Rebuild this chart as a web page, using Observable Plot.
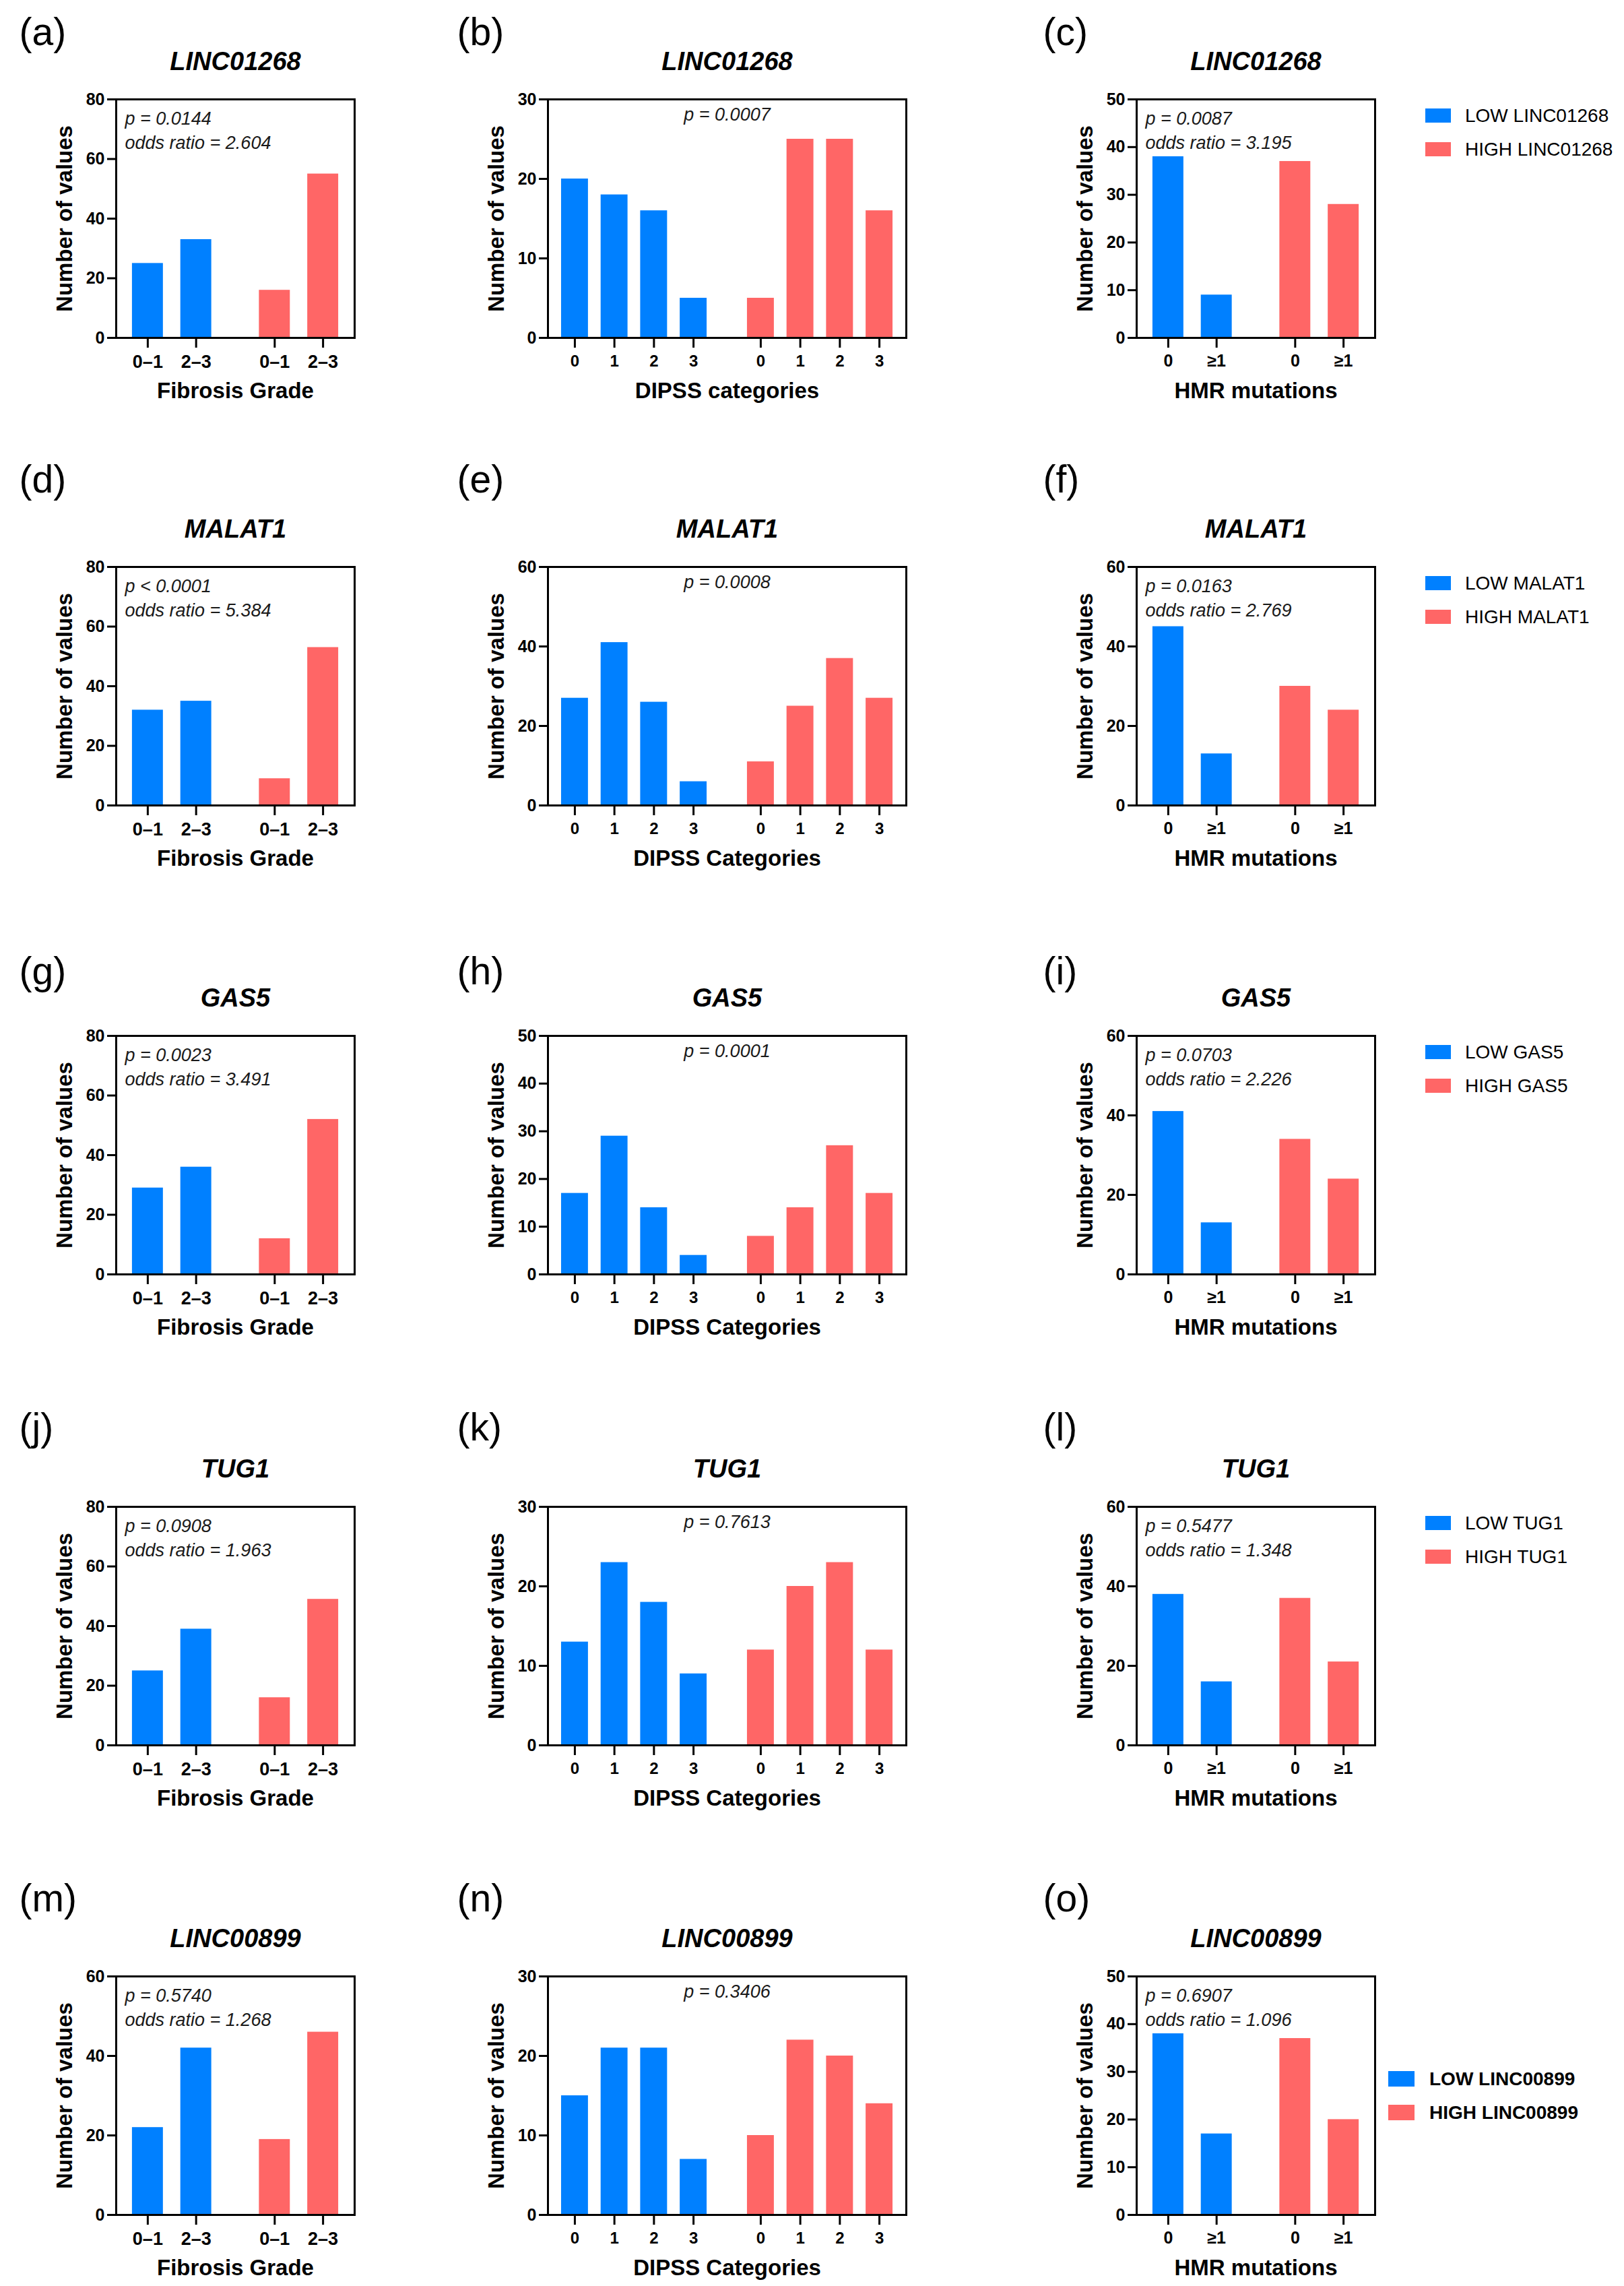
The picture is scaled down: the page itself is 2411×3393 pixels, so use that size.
<!DOCTYPE html>
<html>
<head>
<meta charset="utf-8">
<script src="https://cdn.jsdelivr.net/npm/d3@7"></script>
<script src="https://cdn.jsdelivr.net/npm/@observablehq/plot@0.6"></script>
<style>
html, body { margin: 0; padding: 0; background: #fff; }
#page { position: relative; width: 2411px; height: 3393px; background: #fff; overflow: hidden;
  font-family: "Liberation Sans", Arial, sans-serif; }
.panel { position: absolute; }
.panel svg { background: transparent !important; overflow: visible !important; max-width: none !important; }
.sw { position: absolute; }
.lt { position: absolute; white-space: nowrap; color: #000; font-size: 28px; line-height: 32px; }
</style>
</head>
<body>
<div id="page"></div>
<script>
// ---------------- DATA ----------------
const genes = ["LINC01268", "MALAT1", "GAS5", "TUG1", "LINC00899"];
const groups = ["LOW", "HIGH"];

const fibrosisCats = ["0–1", "2–3"];
const dipssCats = ["0", "1", "2", "3"];
const hmrCats = ["0", "≥1"];

const fibrosisLow  = [[25, 33], [32, 35], [29, 36], [25, 39], [22, 42]];
const fibrosisHigh = [[16, 55], [9, 53], [12, 52], [16, 49], [19, 46]];

const dipssLow  = [[20, 18, 16, 5], [27, 41, 26, 6], [17, 29, 14, 4], [13, 23, 18, 9], [15, 21, 21, 7]];
const dipssHigh = [[5, 25, 25, 16], [11, 25, 37, 27], [8, 14, 27, 17], [12, 20, 23, 12], [10, 22, 20, 14]];

const hmrLow  = [[38, 9], [45, 13], [41, 13], [38, 16], [38, 17]];
const hmrHigh = [[37, 28], [30, 24], [34, 24], [37, 21], [37, 20]];

const fibrosisP  = ["p = 0.0144", "p < 0.0001", "p = 0.0023", "p = 0.0908", "p = 0.5740"];
const fibrosisOR = ["2.604", "5.384", "3.491", "1.963", "1.268"];
const dipssP     = ["p = 0.0007", "p = 0.0008", "p = 0.0001", "p = 0.7613", "p = 0.3406"];
const hmrP       = ["p = 0.0087", "p = 0.0163", "p = 0.0703", "p = 0.5477", "p = 0.6907"];
const hmrOR      = ["3.195", "2.769", "2.226", "1.348", "1.096"];

const fibrosisYMax = [80, 80, 80, 80, 60];
const fibrosisYStep = [20, 20, 20, 20, 20];
const dipssYMax = [30, 60, 50, 30, 30];
const dipssYStep = [10, 20, 10, 10, 10];
const hmrYMax = [50, 60, 60, 60, 50];
const hmrYStep = [10, 20, 20, 20, 10];

const panelLetters = [["a", "b", "c"], ["d", "e", "f"], ["g", "h", "i"], ["j", "k", "l"], ["m", "n", "o"]];
const xLabels = [
  ["Fibrosis Grade", "DIPSS categories", "HMR mutations"],
  ["Fibrosis Grade", "DIPSS Categories", "HMR mutations"],
  ["Fibrosis Grade", "DIPSS Categories", "HMR mutations"],
  ["Fibrosis Grade", "DIPSS Categories", "HMR mutations"],
  ["Fibrosis Grade", "DIPSS Categories", "HMR mutations"]
];
const yLabel = "Number of values";

// ---------------- STYLE / LAYOUT ----------------
const FONT = "'Liberation Sans', Arial, sans-serif";
const BLUE = "#0080FF";
const RED = "#FF6666";
const FRAME_TOP = [147, 841, 1537, 2236, 2933];
const FRAME_H = 354;
const LABEL_BASE = [66, 730, 1460, 2137, 2836];
const COLS = [
  {svgLeft: 0,    svgWidth: 650, frameLeft: 172,  frameRight: 526,  labelLeft: 28,   gap: 1.625, edge: 0.653, barW: 0.64, xTickFont: 27},
  {svgLeft: 650,  svgWidth: 850, frameLeft: 813,  frameRight: 1345, labelLeft: 678,  gap: 1.70,  edge: 0.68,  barW: 0.68, xTickFont: 24},
  {svgLeft: 1500, svgWidth: 911, frameLeft: 1687, frameRight: 2041, labelLeft: 1548, gap: 1.625, edge: 0.653, barW: 0.64, xTickFont: 25}
];
const PAGE_H = 3393;

const page = document.getElementById("page");

function buildPanel(row, col) {
  const C = COLS[col];
  const cats = [fibrosisCats, dipssCats, hmrCats][col];
  const low = [fibrosisLow, dipssLow, hmrLow][col][row];
  const high = [fibrosisHigh, dipssHigh, hmrHigh][col][row];
  const ymax = [fibrosisYMax, dipssYMax, hmrYMax][col][row];
  const ystep = [fibrosisYStep, dipssYStep, hmrYStep][col][row];

  const bars = [];
  cats.forEach((c, i) => bars.push({group: groups[0], cat: c, pos: i, value: low[i]}));
  cats.forEach((c, i) => bars.push({group: groups[1], cat: c, pos: cats.length - 1 + C.gap + i, value: high[i]}));
  const labelByPos = new Map(bars.map(d => [d.pos, d.cat]));
  const lastPos = bars[bars.length - 1].pos;

  const svgTop = FRAME_TOP[row] - 147;
  const height = row === 4 ? PAGE_H - svgTop : 694;
  const mt = FRAME_TOP[row] - svgTop;
  const ml = C.frameLeft - C.svgLeft;
  const mr = C.svgLeft + C.svgWidth - C.frameRight;
  const mb = height - mt - FRAME_H;

  let annot, annotMark;
  if (col === 1) {
    annot = dipssP[row];
    annotMark = Plot.text([annot], {text: d => d, frameAnchor: "top", dy: 12, lineAnchor: "top",
      textAnchor: "middle", fontSize: 27, fontStyle: "italic", fill: "#1a1a1a"});
  } else {
    annot = col === 0 ? `${fibrosisP[row]}\nodds ratio = ${fibrosisOR[row]}` : `${hmrP[row]}\nodds ratio = ${hmrOR[row]}`;
    annotMark = Plot.text([annot], {text: d => d, frameAnchor: "top-left", dx: 13, dy: 12, lineAnchor: "top",
      textAnchor: "start", lineHeight: 1.33, fontSize: 27, fontStyle: "italic", fill: "#1a1a1a"});
  }

  const chart = Plot.plot({
    width: C.svgWidth,
    height,
    marginTop: mt, marginLeft: ml, marginRight: mr, marginBottom: mb,
    style: {fontFamily: FONT, background: "transparent", color: "#000", overflow: "visible"},
    x: {domain: [-C.edge, lastPos + C.edge]},
    y: {domain: [0, ymax]},
    color: {domain: groups, range: [BLUE, RED]},
    marks: [
      Plot.rect(bars, {x1: d => d.pos - C.barW / 2, x2: d => d.pos + C.barW / 2, y1: () => 0, y2: "value", fill: "group"}),
      Plot.axisY({ticks: d3.range(0, ymax + 1, ystep), tickFormat: d => String(d), tickSize: 13, tickPadding: 4,
        fontSize: 25, fontWeight: "bold", strokeWidth: 3, label: null}),
      Plot.axisX({ticks: bars.map(d => d.pos), tickFormat: d => labelByPos.get(d), tickSize: 15, tickPadding: 10,
        fontSize: C.xTickFont, fontWeight: "bold", strokeWidth: 3, label: null}),
      Plot.frame({stroke: "#000", strokeWidth: 3}),
      Plot.text([yLabel], {text: d => d, frameAnchor: "left", rotate: -90, dx: -89, lineAnchor: "top",
        textAnchor: "middle", fontSize: 33, fontWeight: "bold"}),
      Plot.text([xLabels[row][col]], {text: d => d, frameAnchor: "bottom", dy: 89, lineAnchor: "bottom",
        textAnchor: "middle", fontSize: 33, fontWeight: "bold"}),
      Plot.text([genes[row]], {text: d => d, frameAnchor: "top", dy: -44, lineAnchor: "bottom",
        textAnchor: "middle", fontSize: 38, fontWeight: "bold", fontStyle: "italic"}),
      Plot.text([`(${panelLetters[row][col]})`], {text: d => d, frameAnchor: "top-left",
        dx: C.labelLeft - C.frameLeft, dy: LABEL_BASE[row] - FRAME_TOP[row], lineAnchor: "bottom",
        textAnchor: "start", fontSize: 57}),
      annotMark
    ]
  });

  const div = document.createElement("div");
  div.className = "panel";
  div.style.left = C.svgLeft + "px";
  div.style.top = svgTop + "px";
  div.style.width = C.svgWidth + "px";
  div.style.height = height + "px";
  div.appendChild(chart);
  page.appendChild(div);
}

function buildLegend(row) {
  const colors = [BLUE, RED];
  const last = row === 4;
  const swLeft = last ? 2061 : 2116;
  const swW = last ? 39 : 38;
  const swH = last ? 23 : 21;
  const textLeft = last ? 2122 : 2175;
  const tops = last ? [3074, 3124] : [FRAME_TOP[row] + 14, FRAME_TOP[row] + 64];
  groups.forEach((g, i) => {
    const sw = document.createElement("div");
    sw.className = "sw";
    sw.style.left = swLeft + "px";
    sw.style.top = tops[i] + "px";
    sw.style.width = swW + "px";
    sw.style.height = swH + "px";
    sw.style.background = colors[i];
    page.appendChild(sw);
    const t = document.createElement("div");
    t.className = "lt";
    t.style.left = textLeft + "px";
    t.style.top = (tops[i] + swH / 2 - 16) + "px";
    if (last) t.style.fontWeight = "bold";
    t.textContent = `${g} ${genes[row]}`;
    page.appendChild(t);
  });
}

for (let r = 0; r < 5; r++) {
  for (let c = 0; c < 3; c++) buildPanel(r, c);
  buildLegend(r);
}
</script>
</body>
</html>
